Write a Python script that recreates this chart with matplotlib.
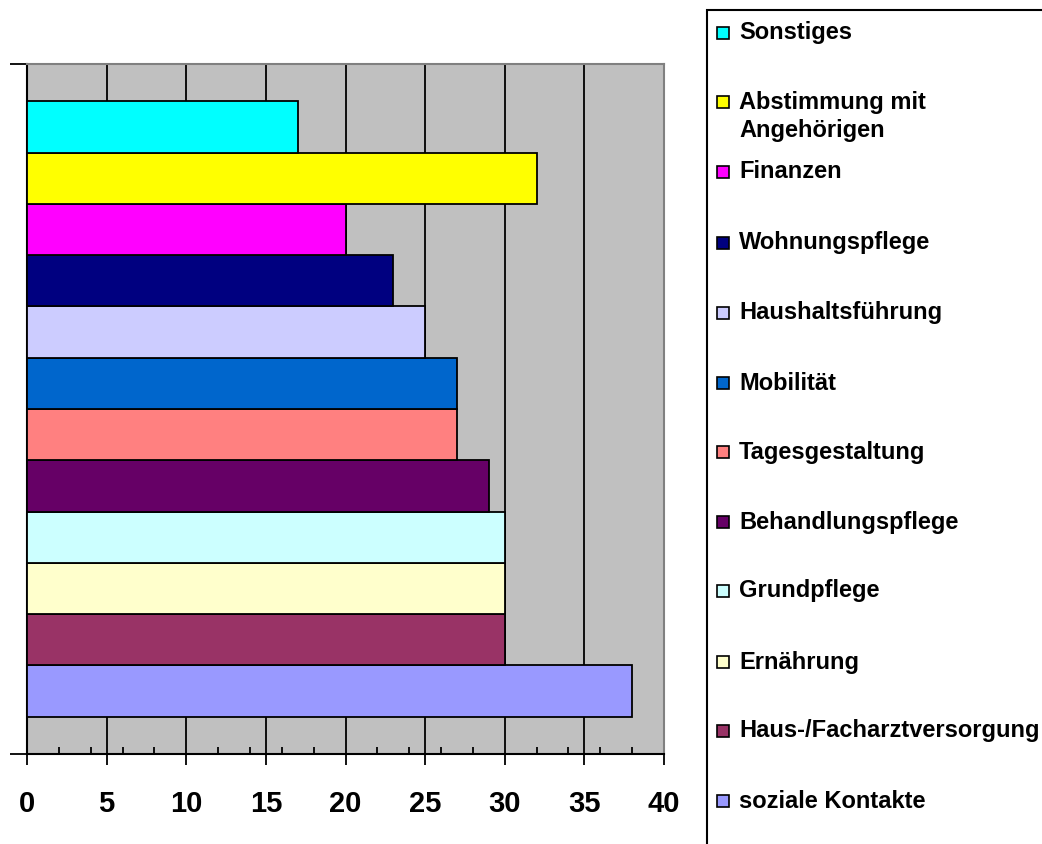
import matplotlib
matplotlib.use("Agg")
from matplotlib import pyplot as plt
from matplotlib.patches import Rectangle
from matplotlib.ticker import MultipleLocator

# bottom to top, as drawn
categories = ['soziale Kontakte', 'Haus-/Facharztversorgung', 'Ernährung', 'Grundpflege',
              'Behandlungspflege', 'Tagesgestaltung', 'Mobilität', 'Haushaltsführung',
              'Wohnungspflege', 'Finanzen', 'Abstimmung mit\nAngehörigen', 'Sonstiges']
values = [38, 30, 30, 30, 29, 27, 27, 25, 23, 20, 32, 17]
colors = ['#9999FF', '#993366', '#FFFFCC', '#CCFFFF', '#660066', '#FF8080',
          '#0066CC', '#CCCCFF', '#000080', '#FF00FF', '#FFFF00', '#00FFFF']
x_ticks = [0, 5, 10, 15, 20, 25, 30, 35, 40]

plt.rcParams['font.family'] = ['Liberation Sans', 'DejaVu Sans']
plt.rcParams['font.weight'] = 'bold'

W, H = 1042, 844
fig = plt.figure(figsize=(W / 100, H / 100), dpi=100)
ax = fig.add_axes([27 / W, (H - 754) / H, (664 - 27) / W, (754 - 64) / H])
ax.set_facecolor('#C0C0C0')

ypos = list(range(len(categories)))
ax.barh(ypos, values, height=1.0, color=colors, edgecolor='black', linewidth=1.3, zorder=3)

ax.set_xlim(0, 40)
ax.set_ylim(-1.23, len(categories) - 1 + 1.23)
ax.set_xticks(x_ticks)
ax.set_xticklabels([str(t) for t in x_ticks], fontsize=21, fontweight='bold')
ax.xaxis.set_minor_locator(MultipleLocator(2))
ax.tick_params(axis='x', which='major', direction='out', length=8, width=1.3, pad=18)
ax.tick_params(axis='x', which='minor', direction='in', length=5, width=1.3)
ax.grid(axis='x', which='major', color='black', linewidth=1.3, zorder=1)

ax.set_yticks(ax.get_ylim())
ax.set_yticklabels([])
ax.tick_params(axis='y', direction='out', length=12, width=1.3)

for s in ['left', 'bottom']:
    ax.spines[s].set_color('black')
    ax.spines[s].set_linewidth(1.5)
for s in ['top', 'right']:
    ax.spines[s].set_color('#808080')
    ax.spines[s].set_linewidth(1.5)
ax.set_axisbelow(True)

# legend box drawn by hand
fig.patches.append(Rectangle((707 / W, -0.1), 0.5, (H - 10) / H + 0.1, transform=fig.transFigure,
                             facecolor='white', edgecolor='black', linewidth=1.5))
leg_y = [801, 731, 662, 591, 522, 452, 383, 313, 243, 172, 102, 33]
for cat, col, py in zip(categories, colors, leg_y):
    fig.patches.append(Rectangle((717 / W, (H - py - 6) / H), 12 / W, 12 / H,
                                 transform=fig.transFigure, facecolor=col,
                                 edgecolor='black', linewidth=1.2))
    if '\n' in cat:
        fig.text(739 / W, (H - py + 11) / H, cat, fontsize=17, fontweight='bold',
                 va='top', ha='left', linespacing=1.3)
    else:
        fig.text(739 / W, (H - py) / H, cat, fontsize=17, fontweight='bold',
                 va='center', ha='left')

fig.savefig('out.png', dpi=100)
